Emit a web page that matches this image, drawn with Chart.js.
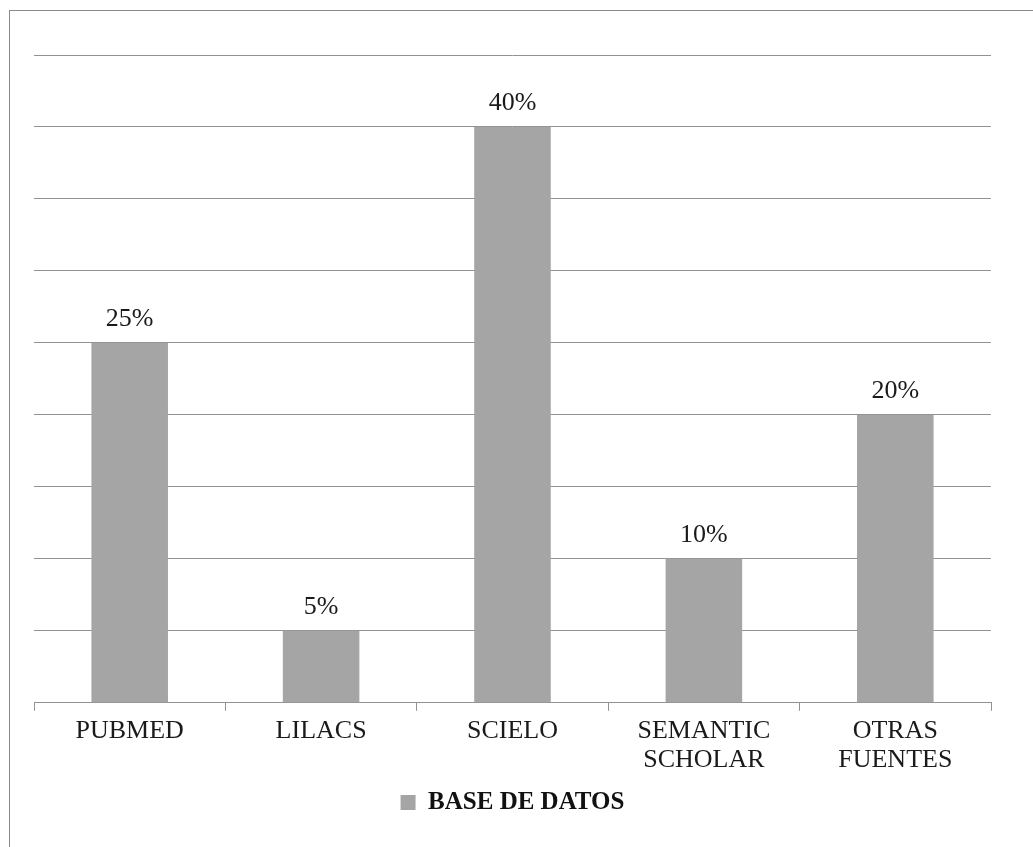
<!DOCTYPE html>
<html>
<head>
<meta charset="utf-8">
<script src="https://cdn.jsdelivr.net/npm/chart.js@4"></script>
<style>
  html, body { margin: 0; padding: 0; background: #fff; }
  #wrap { position: relative; width: 1033px; height: 847px; }
  #marco { position: absolute; left: 9px; top: 10px; width: 1100px; height: 900px; border: 1px solid #8a8a8a; box-sizing: border-box; }
</style>
</head>
<body>
<div id="wrap">
  <div id="marco"></div>
  <canvas id="baseChart" width="1033" height="847"></canvas>
</div>
<script>
// Base de datos
const fuentes = ["PUBMED", "LILACS", "SCIELO", ["SEMANTIC", "SCHOLAR"], ["OTRAS", "FUENTES"]];
const porcentajes = [25, 5, 40, 10, 20];
const etiquetas = ["25%", "5%", "40%", "10%", "20%"];

const etiquetasBarras = {
  id: "etiquetasBarras",
  afterDatasetsDraw(chart) {
    const ctx = chart.ctx;
    const meta = chart.getDatasetMeta(0);
    ctx.save();
    ctx.font = "26px 'Liberation Serif'";
    ctx.fillStyle = "#1a1a1a";
    ctx.textAlign = "center";
    ctx.textBaseline = "alphabetic";
    meta.data.forEach(function (bar, i) {
      ctx.fillText(etiquetas[i], bar.x, bar.y - 17);
    });
    ctx.restore();
  },
};

document.addEventListener("DOMContentLoaded", function () {
  const ctx = document.getElementById("baseChart").getContext("2d");

  new Chart(ctx, {
    type: "bar",
    data: {
      labels: fuentes,
      datasets: [
        {
          label: "BASE DE DATOS",
          data: porcentajes,
          backgroundColor: "#a5a5a5",
          borderWidth: 0,
          barPercentage: 0.4,
          categoryPercentage: 1,
        },
      ],
    },
    options: {
      responsive: false,
      animation: false,
      layout: {
        padding: { left: 34, right: 42, top: 55, bottom: 22 },
      },
      scales: {
        x: {
          offset: true,
          grid: {
            offset: true,
            drawOnChartArea: false,
            color: "#929292",
            tickLength: 8,
          },
          border: { color: "#929292" },
          ticks: {
            color: "#1a1a1a",
            padding: 6,
            font: { family: "'Liberation Serif'", size: 26, lineHeight: 1.1 },
          },
        },
        y: {
          min: 0,
          max: 45,
          ticks: { display: false, stepSize: 5 },
          grid: { color: "#929292", drawTicks: false },
          border: { display: false },
        },
      },
      plugins: {
        legend: {
          position: "bottom",
          labels: {
            color: "#111",
            boxWidth: 15,
            boxHeight: 15,
            font: { family: "'Liberation Serif'", size: 25, weight: "bold" },
          },
        },
        tooltip: { enabled: false },
      },
    },
    plugins: [etiquetasBarras],
  });
});
</script>
</body>
</html>
